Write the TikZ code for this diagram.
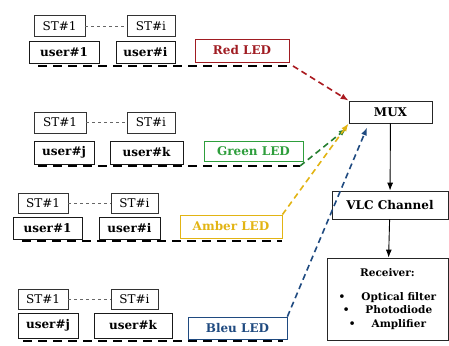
\documentclass[tikz,border=0pt]{standalone}
\usepackage{fontspec}
\setmainfont{DejaVu Serif}
\usepackage{tikz}
\usepackage{xcolor}
\usetikzlibrary{arrows.meta}

\definecolor{ledred}{HTML}{A01C22}
\definecolor{ledgreen}{HTML}{2E9E3C}
\definecolor{ledamber}{HTML}{E2B414}
\definecolor{ledblue}{HTML}{1F4A80}

\begin{document}
\begin{tikzpicture}[x=1pt, y=-1pt, >={Latex[length=8pt, width=6pt]},
    every node/.style={inner sep=0pt, font=\fontsize{12}{14}\selectfont},
    stbox/.style={draw=black!80, line width=0.6pt, minimum height=21pt},
    userbox/.style={draw=black!90, line width=0.9pt, minimum height=22pt, font=\fontsize{12}{14}\selectfont\bfseries},
    ledbox/.style={draw=#1, text=#1, line width=0.8pt, minimum height=22pt, font=\fontsize{12}{14}\selectfont\bfseries},
    block/.style={draw=black!85, line width=0.8pt, font=\fontsize{12}{14}\selectfont\bfseries},
    stlink/.style={dashed, black!60, line width=0.7pt},
    bus/.style={black, line width=2.5pt, dash pattern=on 9pt off 6pt},
    ledlink/.style={->, #1, line width=1.6pt, dash pattern=on 6pt off 4pt}]
  \useasboundingbox (0,0) rectangle (449,345);

  % right column
  \node[block, minimum width=83pt, minimum height=22pt] (mux) at (390.5,112) {MUX};
  \node[block, minimum width=116pt, minimum height=28pt] (vlc) at (390,205) {VLC Channel};
  \node[block, minimum width=121pt, minimum height=82pt, align=center,
        font=\fontsize{10.5}{13.5}\selectfont\bfseries] (rx) at (387.5,299)
        {Receiver:\\[10pt]
         \textbullet\hspace{16pt}Optical filter\\
         \textbullet\hspace{16pt}Photodiode\\
         \textbullet\hspace{16pt}Amplifier};
  \draw[->, line width=0.9pt] (mux) -- (vlc);
  \draw[->, line width=0.9pt] (vlc) -- (rx);

  % red group
  \node[stbox, minimum width=51pt] (st11) at (59.5,26) {ST\#1};
  \node[stbox, minimum width=48pt] (st1i) at (151,26) {ST\#i};
  \draw[stlink] (st11) -- (st1i);
  \node[userbox, minimum width=70pt] (u11) at (64,52) {user\#1};
  \node[userbox, minimum width=59pt] (u1i) at (145.5,52) {user\#i};
  \node[ledbox=ledred, minimum width=94pt, minimum height=23pt] (led1) at (242,50.5) {Red LED};
  \coordinate (bus1a) at (38,66);
  \coordinate (bus1b) at (293,66);
  \draw[bus] (bus1a) -- (bus1b);
  \draw[ledlink=ledred!90!red] (bus1b) -- (mux.north west);

  % green group
  \node[stbox, minimum width=52pt] (st21) at (60,122.5) {ST\#1};
  \node[stbox, minimum width=48pt] (st2i) at (151,122.5) {ST\#i};
  \draw[stlink] (st21) -- (st2i);
  \node[userbox, minimum width=60pt, minimum height=23pt] (u2j) at (64,152.5) {user\#j};
  \node[userbox, minimum width=73pt, minimum height=23pt] (u2k) at (146.5,152.5) {user\#k};
  \node[ledbox=ledgreen, minimum width=99pt, minimum height=20pt] (led2) at (253.5,151) {Green LED};
  \coordinate (bus2a) at (38,166);
  \coordinate (bus2b) at (300,166);
  \draw[bus] (bus2a) -- (bus2b);
  \draw[ledlink=ledgreen!80!black] (bus2b) -- ([xshift=-2pt,yshift=-5pt]mux.south west);

  % amber group
  \node[stbox, minimum width=50pt, minimum height=20pt] (st31) at (43,203) {ST\#1};
  \node[stbox, minimum width=47pt, minimum height=20pt] (st3i) at (134.5,203) {ST\#i};
  \draw[stlink] (st31) -- (st3i);
  \node[userbox, minimum width=69pt] (u31) at (47.5,228) {user\#1};
  \node[userbox, minimum width=61pt] (u3i) at (129.5,228) {user\#i};
  \node[ledbox=ledamber, minimum width=102pt, minimum height=23pt] (led3) at (231,226.5) {Amber LED};
  \coordinate (bus3a) at (22,241);
  \coordinate (bus3b) at (282,241);
  \draw[bus] (bus3a) -- (bus3b);
  \draw[ledlink=ledamber] (led3.north east) -- (mux.south west);

  % blue group
  \node[stbox, minimum width=50pt, minimum height=20pt] (st41) at (43,299) {ST\#1};
  \node[stbox, minimum width=47pt, minimum height=20pt] (st4i) at (134.5,299) {ST\#i};
  \draw[stlink] (st41) -- (st4i);
  \node[userbox, minimum width=60pt, minimum height=25pt] (u4j) at (48,325.5) {user\#j};
  \node[userbox, minimum width=78pt, minimum height=25pt] (u4k) at (133,325.5) {user\#k};
  \node[ledbox=ledblue, minimum width=99pt] (led4) at (237.5,328) {Bleu LED};
  \coordinate (bus4a) at (23,341);
  \coordinate (bus4b) at (283,341);
  \draw[bus] (bus4a) -- (bus4b);
  \draw[ledlink=ledblue] (led4.north east) -- ([yshift=-4pt]mux.-154);
\end{tikzpicture}
\end{document}
